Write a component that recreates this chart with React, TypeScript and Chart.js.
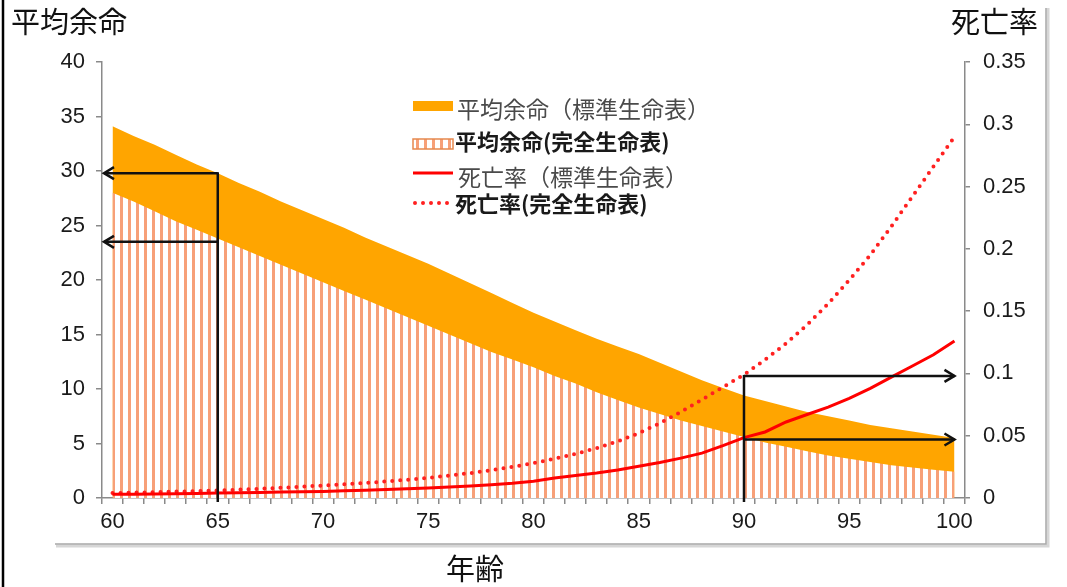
import React, { useEffect, useRef } from 'react';
import { Chart, registerables } from 'chart.js';

Chart.register(...registerables);

// ---- data ----
const ages = [
  60, 61, 62, 63, 64, 65, 66, 67, 68, 69,
  70, 71, 72, 73, 74, 75, 76, 77, 78, 79,
  80, 81, 82, 83, 84, 85, 86, 87, 88, 89,
  90, 91, 92, 93, 94, 95, 96, 97, 98, 99, 100,
];

// 平均余命（標準生命表）
const lifeExpStandard = [
  34.1, 33.2, 32.4, 31.5, 30.6, 29.8, 28.9, 28.1, 27.2, 26.4,
  25.6, 24.8, 23.9, 23.1, 22.3, 21.5, 20.6, 19.7, 18.8, 17.9,
  17.0, 16.2, 15.4, 14.6, 13.9, 13.2, 12.4, 11.6, 10.8, 10.1,
  9.4, 8.9, 8.4, 7.9, 7.5, 7.1, 6.7, 6.4, 6.1, 5.8, 5.5,
];

// 平均余命(完全生命表)
const lifeExpComplete = [
  28.0, 27.2, 26.3, 25.4, 24.6, 23.8, 23.0, 22.2, 21.4, 20.6,
  19.8, 19.0, 18.2, 17.4, 16.6, 15.8, 15.0, 14.2, 13.4, 12.7,
  12.0, 11.2, 10.5, 9.7, 9.0, 8.3, 7.7, 7.1, 6.6, 6.1,
  5.6, 5.1, 4.7, 4.3, 3.9, 3.6, 3.3, 3.0, 2.8, 2.6, 2.4,
];

// 死亡率（標準生命表）
const mortalityStandard = [
  0.0030, 0.0031, 0.0033, 0.0035, 0.0037, 0.0040, 0.0042, 0.0045, 0.0048, 0.0050,
  0.0053, 0.0058, 0.0063, 0.0068, 0.0074, 0.0080, 0.0088, 0.0097, 0.0107, 0.0118,
  0.0135, 0.0160, 0.0180, 0.0200, 0.0225, 0.0255, 0.0285, 0.0320, 0.0360, 0.0420,
  0.0485, 0.0530, 0.0610, 0.0670, 0.0730, 0.0800, 0.0880, 0.0970, 0.1060, 0.1150, 0.1260,
];

// 死亡率(完全生命表)
const mortalityComplete = [
  0.0040, 0.0043, 0.0047, 0.0051, 0.0056, 0.0061, 0.0067, 0.0074, 0.0082, 0.0091,
  0.0100, 0.0110, 0.0121, 0.0133, 0.0146, 0.0162, 0.0180, 0.0200, 0.0223, 0.0250,
  0.0280, 0.0315, 0.0355, 0.0400, 0.0455, 0.0520, 0.0600, 0.0690, 0.0790, 0.0890,
  0.0990, 0.1110, 0.1240, 0.1390, 0.1560, 0.1750, 0.1950, 0.2180, 0.2420, 0.2660, 0.2900,
];

const seriesLabels = [
  '平均余命（標準生命表）',
  '平均余命(完全生命表)',
  '死亡率（標準生命表）',
  '死亡率(完全生命表)',
];

const leftAxisTitle = '平均余命';
const rightAxisTitle = '死亡率';
const xAxisTitle = '年齢';

// guide arrows (in data units)
const leftGuideAge = 65;
const leftGuideValues = [29.8, 23.5];
const rightGuideAge = 90;
const rightGuideEndAge = 100;
const rightGuideValues = [0.098, 0.047];

const TICK_FONT = '"Liberation Sans", Arial, sans-serif';
const CJK_FONT = '"Noto Sans CJK JP", "Noto Sans CJK SC", sans-serif';

function makeStripe(ctx: CanvasRenderingContext2D) {
  const c = document.createElement('canvas');
  c.width = 8;
  c.height = 8;
  const g = c.getContext('2d')!;
  g.fillStyle = '#ffffff';
  g.fillRect(0, 0, 8, 8);
  g.fillStyle = '#f7a078';
  g.fillRect(0, 0, 3, 8);
  return ctx.createPattern(c, 'repeat');
}

function arrowHead(ctx: CanvasRenderingContext2D, x: number, y: number, dir: number) {
  ctx.beginPath();
  ctx.moveTo(x - dir * 10, y - 6);
  ctx.lineTo(x, y);
  ctx.lineTo(x - dir * 10, y + 6);
  ctx.stroke();
}

const framePlugin = {
  id: 'frame',
  beforeDraw(chart: any) {
    const ctx = chart.ctx as CanvasRenderingContext2D;
    ctx.save();
    ctx.fillStyle = '#ffffff';
    ctx.fillRect(0, 0, chart.width, chart.height);
    // outer black edge
    ctx.strokeStyle = '#000000';
    ctx.lineWidth = 2.5;
    ctx.beginPath();
    ctx.moveTo(3, 0);
    ctx.lineTo(3, chart.height);
    ctx.stroke();
    // chart-area frame (bottom + right)
    ctx.strokeStyle = '#d6d6d6';
    ctx.lineWidth = 3;
    ctx.beginPath();
    ctx.moveTo(56, 546);
    ctx.lineTo(1048, 546);
    ctx.lineTo(1048, 8);
    ctx.stroke();
    ctx.strokeStyle = '#a8a8a8';
    ctx.lineWidth = 1.5;
    ctx.beginPath();
    ctx.moveTo(55, 544);
    ctx.lineTo(1046, 544);
    ctx.lineTo(1046, 8);
    ctx.stroke();
    ctx.restore();
  },
};

const guidePlugin = {
  id: 'guides',
  afterDatasetsDraw(chart: any) {
    const ctx = chart.ctx as CanvasRenderingContext2D;
    const xs = chart.scales.x;
    const yl = chart.scales.y;
    const yr = chart.scales.y1;
    const area = chart.chartArea;
    ctx.save();
    ctx.strokeStyle = '#111111';
    ctx.lineWidth = 2.5;
    ctx.lineCap = 'butt';
    ctx.lineJoin = 'miter';
    // left guides
    const lx = xs.getPixelForValue(ages.indexOf(leftGuideAge));
    const topL = Math.min(...leftGuideValues.map((v) => yl.getPixelForValue(v)));
    ctx.beginPath();
    ctx.moveTo(lx, topL - 1);
    ctx.lineTo(lx, area.bottom + 4);
    ctx.stroke();
    leftGuideValues.forEach((v) => {
      const py = yl.getPixelForValue(v);
      ctx.beginPath();
      ctx.moveTo(lx, py);
      ctx.lineTo(area.left + 2, py);
      ctx.stroke();
      arrowHead(ctx, area.left + 2, py, -1);
    });
    // right guides
    const rx = xs.getPixelForValue(ages.indexOf(rightGuideAge));
    const ex = xs.getPixelForValue(ages.indexOf(rightGuideEndAge));
    const topR = Math.min(...rightGuideValues.map((v) => yr.getPixelForValue(v)));
    ctx.beginPath();
    ctx.moveTo(rx, topR - 1);
    ctx.lineTo(rx, area.bottom + 4);
    ctx.stroke();
    rightGuideValues.forEach((v) => {
      const py = yr.getPixelForValue(v);
      ctx.beginPath();
      ctx.moveTo(rx, py);
      ctx.lineTo(ex, py);
      ctx.stroke();
      arrowHead(ctx, ex, py, 1);
    });
    ctx.restore();
  },
};

const textPlugin = {
  id: 'texts',
  afterDraw(chart: any) {
    const ctx = chart.ctx as CanvasRenderingContext2D;
    const ds = chart.data.datasets;
    ctx.save();
    // axis titles
    ctx.fillStyle = '#111111';
    ctx.textBaseline = 'middle';
    ctx.font = `29px ${CJK_FONT}`;
    ctx.textAlign = 'left';
    ctx.fillText(leftAxisTitle, 11, 22);
    ctx.fillText(rightAxisTitle, 951, 22);
    ctx.textAlign = 'center';
    ctx.fillText(xAxisTitle, 475, 569);

    // legend
    const sx = 413;
    const sw = 40;
    const tx = 457;
    ctx.textAlign = 'left';
    // 1: orange area
    ctx.fillStyle = ds[3].backgroundColor;
    ctx.fillRect(sx, 101, sw, 10);
    ctx.fillStyle = '#4a4a4a';
    ctx.font = `23px ${CJK_FONT}`;
    ctx.fillText(ds[3].label, tx, 109);
    // 2: striped area
    ctx.fillStyle = ds[2].backgroundColor;
    ctx.fillRect(sx, 139, sw, 10);
    ctx.strokeStyle = '#e6884e';
    ctx.lineWidth = 1.5;
    ctx.strokeRect(sx, 139, sw, 10);
    ctx.fillStyle = '#1a1a1a';
    ctx.font = `bold 22px ${CJK_FONT}`;
    ctx.fillText(ds[2].label, tx - 2, 142);
    // 3: solid line
    ctx.strokeStyle = ds[0].borderColor;
    ctx.lineWidth = 3;
    ctx.beginPath();
    ctx.moveTo(sx, 173);
    ctx.lineTo(sx + sw, 173);
    ctx.stroke();
    ctx.fillStyle = '#4a4a4a';
    ctx.font = `23px ${CJK_FONT}`;
    ctx.fillText(ds[0].label, tx + 1, 177);
    // 4: dotted line
    ctx.strokeStyle = ds[1].borderColor;
    ctx.lineWidth = 4;
    ctx.lineCap = 'round';
    ctx.setLineDash([0, 8]);
    ctx.beginPath();
    ctx.moveTo(sx + 2, 203);
    ctx.lineTo(sx + sw, 203);
    ctx.stroke();
    ctx.setLineDash([]);
    ctx.fillStyle = '#1a1a1a';
    ctx.font = `bold 22px ${CJK_FONT}`;
    ctx.fillText(ds[1].label, tx - 2, 204);
    ctx.restore();
  },
};

export default function App() {
  const ref = useRef<HTMLCanvasElement>(null);

  useEffect(() => {
    const canvas = ref.current!;
    const ctx = canvas.getContext('2d')!;
    const stripe = makeStripe(ctx);
    const axisColor = '#8a8a8a';

    const chart = new Chart(ctx, {
      type: 'line',
      data: {
        labels: ages.map(String),
        datasets: [
          {
            label: seriesLabels[2],
            data: mortalityStandard,
            yAxisID: 'y1',
            borderColor: '#ff0000',
            borderWidth: 3,
            pointRadius: 0,
            fill: false,
            tension: 0,
            order: 0,
          },
          {
            label: seriesLabels[3],
            data: mortalityComplete,
            yAxisID: 'y1',
            borderColor: '#ff2020',
            borderWidth: 4,
            borderDash: [0, 8],
            borderCapStyle: 'round',
            pointRadius: 0,
            fill: false,
            tension: 0,
            order: 1,
          },
          {
            label: seriesLabels[1],
            data: lifeExpComplete,
            yAxisID: 'y',
            backgroundColor: stripe as any,
            borderColor: 'rgba(0,0,0,0)',
            borderWidth: 0,
            pointRadius: 0,
            fill: 'origin',
            tension: 0,
            order: 2,
          },
          {
            label: seriesLabels[0],
            data: lifeExpStandard,
            yAxisID: 'y',
            backgroundColor: '#ffa500',
            borderColor: 'rgba(0,0,0,0)',
            borderWidth: 0,
            pointRadius: 0,
            fill: 'origin',
            tension: 0,
            order: 3,
          },
        ],
      },
      options: {
        animation: false,
        responsive: false,
        devicePixelRatio: 1,
        layout: { padding: { top: 62, left: 0, right: 0, bottom: 0 } },
        plugins: {
          legend: { display: false },
          tooltip: { enabled: false },
          title: { display: false },
        },
        scales: {
          x: {
            type: 'category',
            offset: true,
            grid: {
              offset: true,
              drawOnChartArea: false,
              drawTicks: true,
              tickLength: 6,
              color: axisColor,
              lineWidth: 1.5,
            },
            border: { display: true, color: axisColor, width: 1.5 },
            ticks: {
              autoSkip: false,
              maxRotation: 0,
              minRotation: 0,
              padding: 5,
              color: '#1a1a1a',
              font: { family: TICK_FONT, size: 22 },
              callback: (_v: any, i: number) => (ages[i] % 5 === 0 ? String(ages[i]) : ''),
            },
            afterFit: (s: any) => {
              s.height = 89;
            },
          },
          y: {
            position: 'left',
            min: 0,
            max: 40,
            grid: {
              drawOnChartArea: false,
              drawTicks: true,
              tickLength: 6,
              color: axisColor,
              lineWidth: 1.5,
            },
            border: { display: true, color: axisColor, width: 1.5 },
            ticks: {
              stepSize: 5,
              padding: 11,
              color: '#1a1a1a',
              font: { family: TICK_FONT, size: 22 },
            },
            afterFit: (s: any) => {
              s.width = 102;
            },
          },
          y1: {
            position: 'right',
            min: 0,
            max: 0.35,
            grid: {
              drawOnChartArea: false,
              drawTicks: true,
              tickLength: 5,
              color: axisColor,
              lineWidth: 1.5,
            },
            border: { display: true, color: axisColor, width: 1.5 },
            ticks: {
              stepSize: 0.05,
              padding: 13,
              color: '#1a1a1a',
              font: { family: TICK_FONT, size: 22 },
              callback: (v: any) => String(Math.round(Number(v) * 100) / 100),
            },
            afterFit: (s: any) => {
              s.width = 102;
            },
          },
        },
      } as any,
      plugins: [framePlugin, guidePlugin, textPlugin],
    });

    return () => chart.destroy();
  }, []);

  return (
    <div style={{ position: 'fixed', left: 0, top: 0, width: 1067, height: 587, background: '#fff' }}>
      <canvas ref={ref} width={1067} height={587} style={{ display: 'block', width: 1067, height: 587 }} />
    </div>
  );
}
